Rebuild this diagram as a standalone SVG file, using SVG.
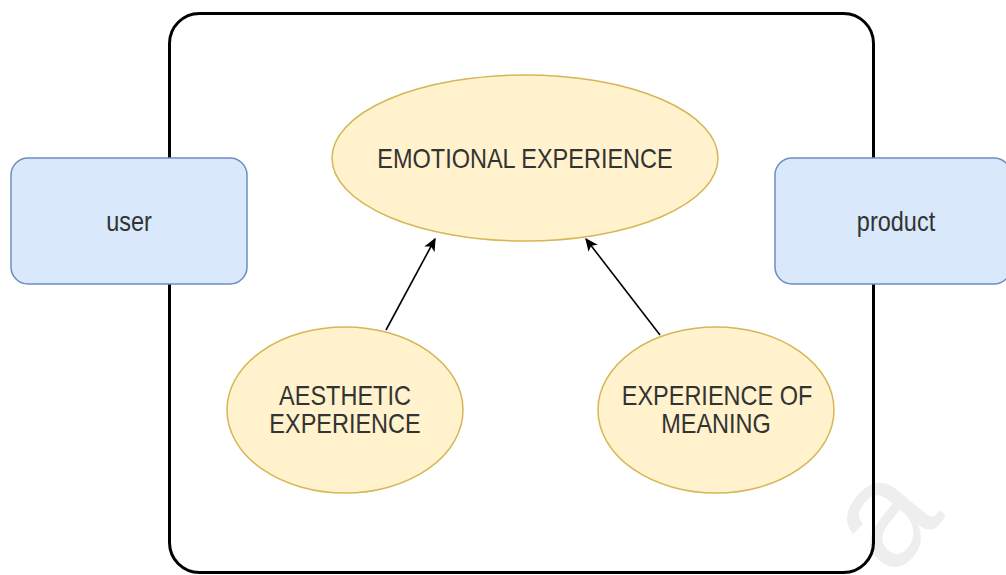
<svg xmlns="http://www.w3.org/2000/svg" width="1006" height="575" viewBox="0 0 1006 575">
<defs>
<style>
.box{fill:#dae8fc;stroke:#6c8ebf;stroke-width:1.5}
.ell{fill:#fff2cc;stroke:#d6b656;stroke-width:1.5}
.t{font-family:"Liberation Sans",Arial,sans-serif;font-size:23.5px;fill:#333;text-anchor:middle}
.edge{stroke:#000;stroke-width:1.6;fill:none;marker-end:url(#ah)}
</style>
<marker id="ah" viewBox="0 0 10 10" refX="9" refY="5" markerWidth="13" markerHeight="13" orient="auto" markerUnits="userSpaceOnUse">
<path d="M0,0.5 L10,5 L0,9.5 L2.5,5 Z" fill="#000"/>
</marker>
</defs>
<rect width="1006" height="575" fill="#fff"/>
<text transform="translate(890 523) rotate(-50)" x="0" y="38" font-family="Liberation Sans,Arial,sans-serif" font-size="150" fill="#eeeeee" text-anchor="middle">a</text>
<g id="frame"><rect x="169.5" y="13.5" width="704" height="559" rx="30" fill="none" stroke="#000" stroke-width="3"/></g>
<g id="user"><rect class="box" x="11" y="158" width="236" height="126" rx="17"/><text class="t" transform="translate(129 231) scale(1 1.2)">user</text></g>
<g id="product"><rect class="box" x="775" y="158" width="236" height="126" rx="17"/><text class="t" transform="translate(896 231) scale(1 1.2)">product</text></g>
<g id="emotional"><ellipse class="ell" cx="525" cy="158" rx="193" ry="83"/><text class="t" transform="translate(525 168) scale(1 1.2)">EMOTIONAL EXPERIENCE</text></g>
<g id="aesthetic"><ellipse class="ell" cx="345" cy="410" rx="118" ry="83"/><text class="t" transform="translate(345 405) scale(1 1.15)">AESTHETIC</text><text class="t" transform="translate(345 433) scale(1 1.15)">EXPERIENCE</text></g>
<g id="meaning"><ellipse class="ell" cx="716" cy="410" rx="118" ry="83"/><text class="t" transform="translate(717 405) scale(1 1.15)">EXPERIENCE OF</text><text class="t" transform="translate(716 433) scale(1 1.15)">MEANING</text></g>
<g id="connectors">
<line class="edge" x1="386" y1="330" x2="435" y2="239"/>
<line class="edge" x1="660" y1="335" x2="586" y2="239"/>
</g>
</svg>
